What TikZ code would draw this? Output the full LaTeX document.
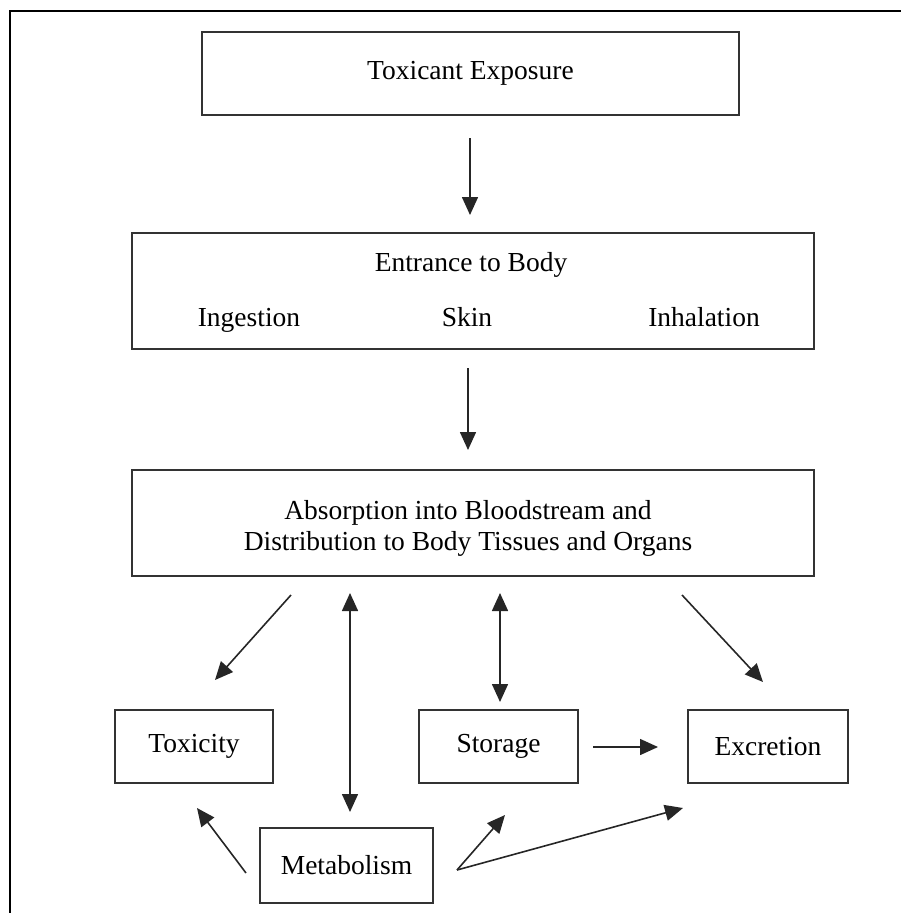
\documentclass[tikz,border=0pt]{standalone}
\usepackage{fontspec}
\setmainfont{Liberation Serif}
\usetikzlibrary{arrows.meta,calc}
\begin{document}
\begin{tikzpicture}[x=1pt,y=-1pt,
  box/.style={draw=black!80,line width=1.6pt,inner sep=0pt,align=center},
  lbl/.style={inner sep=0pt,anchor=base},
  arr/.style={draw=black!85,line width=1.6pt,-{Triangle[length=18pt,width=16pt]}},
  darr/.style={draw=black!85,line width=1.6pt,{Triangle[length=18pt,width=16pt]}-{Triangle[length=18pt,width=16pt]}},
  every node/.style={font=\fontsize{27.5}{31}\selectfont}]
\useasboundingbox (0,0) rectangle (901,913);
\draw[line width=2pt,black] (9.5,913) -- (9.5,11) -- (901,11);

\node[box,minimum width=537pt,minimum height=83pt] (tox) at (470.5,73.5) {Toxicant Exposure};
\node[box,minimum width=682pt,minimum height=116pt] (ent) at (473,291) {};
\node[lbl] (entt) at (471,271) {Entrance to Body};
\node[lbl] (ing) at (249,326) {Ingestion};
\node[lbl] (skin) at (467,326) {Skin};
\node[lbl] (inh) at (704,326) {Inhalation};
\node[box,minimum width=682pt,minimum height=106pt] (abs) at (473,523) {};
\node[lbl] (abs1) at (468,519) {Absorption into Bloodstream and};
\node[lbl] (abs2) at (468,550) {Distribution to Body Tissues and Organs};
\node[box,minimum width=158pt,minimum height=73pt] (toxi) at (194,746.5) {Toxicity};
\node[box,minimum width=159pt,minimum height=73pt] (stor) at (498.5,746.5) {Storage};
\node[box,minimum width=160pt,minimum height=73pt] (excr) at (768,746.5) {Excretion};
\node[box,minimum width=173pt,minimum height=75pt] (meta) at (346.5,865.5) {Metabolism};

% free ends
\coordinate (t1) at (470,138);  \coordinate (h1) at (470,215);
\coordinate (t2) at (468,368);  \coordinate (h2) at (468,450);
\coordinate (a1) at (291,595);  \coordinate (a1h) at (215,680);
\coordinate (a2) at (350,593);  \coordinate (a2h) at (350,812);
\coordinate (a3) at (500,593);  \coordinate (a3h) at (500,702);
\coordinate (a4) at (682,595);  \coordinate (a4h) at (763,682);
\coordinate (s1) at (593,747);  \coordinate (s1h) at (658,747);
\coordinate (m0) at (457,870);
\coordinate (m1h) at (505,815); \coordinate (m2h) at (683,808);
\coordinate (m3) at (246,873);  \coordinate (m3h) at (197,808);

\draw[arr] (t1) -- (h1);
\draw[arr] (t2) -- (h2);
\draw[arr] (a1) -- (a1h);
\draw[darr] (a2) -- (a2h);
\draw[darr] (a3) -- (a3h);
\draw[arr] (a4) -- (a4h);
\draw[arr] (s1) -- (s1h);
\draw[arr] (m0) -- (m1h);
\draw[arr] (m0) -- (m2h);
\draw[arr] (m3) -- (m3h);
\end{tikzpicture}
\end{document}
